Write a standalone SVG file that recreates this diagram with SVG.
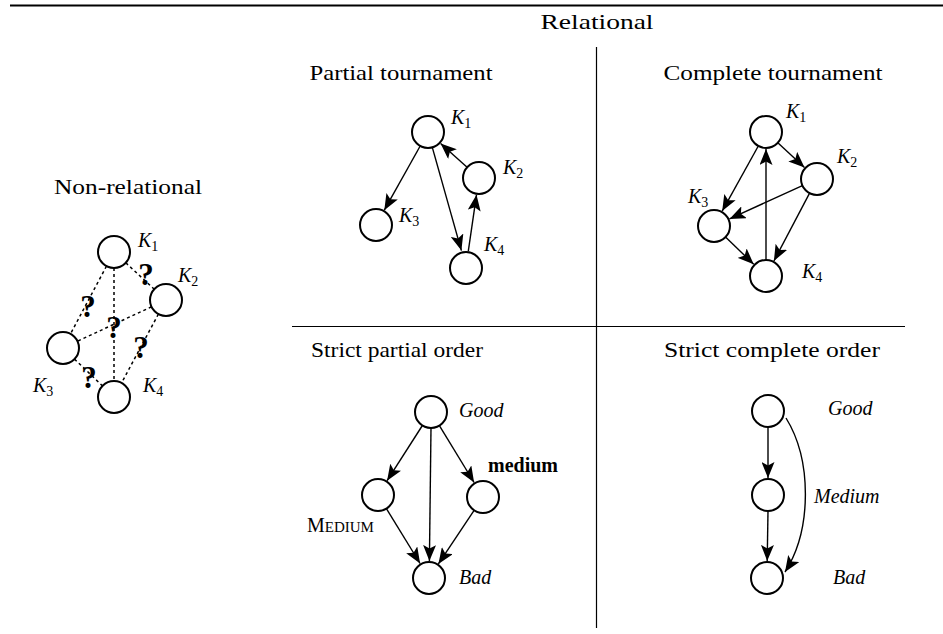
<svg xmlns="http://www.w3.org/2000/svg" width="943" height="634" viewBox="0 0 943 634">
<style>
.t{font-family:"Liberation Serif","DejaVu Serif",serif;font-size:22px;fill:#000}
.k{font-family:"Liberation Serif","DejaVu Serif",serif;font-size:20px;font-style:italic;fill:#000}
.s{font-size:14px;font-style:normal}
.q{font-family:"Liberation Serif","DejaVu Serif",serif;font-size:31px;font-weight:bold;fill:#000;text-anchor:middle}
.n{fill:#fff;stroke:#000;stroke-width:2}
.e{fill:none;stroke:#000;stroke-width:1.4;marker-end:url(#ah)}
.d{fill:none;stroke:#000;stroke-width:1.5;stroke-dasharray:3 3}
.r{stroke:#000;stroke-width:1.2}
</style>
<defs>
<marker id="ah" markerUnits="userSpaceOnUse" markerWidth="17" markerHeight="13" viewBox="0 0 17 13" refX="16" refY="6.5" orient="auto">
<path d="M0,0 L16,6.5 L0,13 L3.5,6.5 z" fill="#000"/>
</marker>
</defs>
<g id="rules">
<line x1="10" y1="5.5" x2="943" y2="5.5" stroke="#000" stroke-width="2.2"/>
<line class="r" x1="596.5" y1="47" x2="596.5" y2="628"/>
<line class="r" x1="292" y1="326.5" x2="905" y2="326.5"/>
</g>
<g id="titles">
<text class="t" x="597" y="29" text-anchor="middle" textLength="113" lengthAdjust="spacingAndGlyphs">Relational</text>
<text class="t" x="401" y="80" text-anchor="middle" textLength="183" lengthAdjust="spacingAndGlyphs">Partial tournament</text>
<text class="t" x="773" y="80" text-anchor="middle" textLength="219" lengthAdjust="spacingAndGlyphs">Complete tournament</text>
<text class="t" x="128" y="194" text-anchor="middle" textLength="148" lengthAdjust="spacingAndGlyphs">Non-relational</text>
<text class="t" x="397" y="357" text-anchor="middle" textLength="172" lengthAdjust="spacingAndGlyphs">Strict partial order</text>
<text class="t" x="772" y="357" text-anchor="middle" textLength="216" lengthAdjust="spacingAndGlyphs">Strict complete order</text>
</g>
<g id="connectors">
<!-- non-relational -->
<line class="d" x1="125.8" y1="262.8" x2="154.2" y2="289.2"/>
<line class="d" x1="106.5" y1="266.1" x2="70.5" y2="333.9"/>
<line class="d" x1="114" y1="268" x2="114" y2="381"/>
<line class="d" x1="151.5" y1="306.8" x2="77.5" y2="341.2"/>
<line class="d" x1="158.4" y1="314.1" x2="121.6" y2="382.9"/>
<line class="d" x1="74.5" y1="359.1" x2="102.5" y2="385.9"/>
<!-- partial tournament -->
<line class="e" x1="420.2" y1="146" x2="384.3" y2="210.2"/>
<line class="e" x1="432.3" y1="147.4" x2="461.4" y2="250.6"/>
<line class="e" x1="467.1" y1="167.3" x2="440.6" y2="143.4"/>
<line class="e" x1="468.3" y1="251.2" x2="476.5" y2="194.8"/>
<!-- complete tournament -->
<line class="e" x1="777.8" y1="142.8" x2="804.5" y2="167.5"/>
<line class="e" x1="758.3" y1="146" x2="722.2" y2="211.1"/>
<line class="e" x1="766" y1="260" x2="766" y2="149"/>
<line class="e" x1="802.4" y1="185.6" x2="729.5" y2="218.9"/>
<line class="e" x1="809.6" y1="193.2" x2="773.9" y2="261"/>
<line class="e" x1="725.5" y1="237.1" x2="753.7" y2="264.2"/>
<!-- strict partial order -->
<line class="e" x1="422.4" y1="425.5" x2="387.1" y2="480.7"/>
<line class="e" x1="439.4" y1="425.6" x2="474.1" y2="482.5"/>
<line class="e" x1="431" y1="428" x2="429.4" y2="561"/>
<line class="e" x1="386.4" y1="508.6" x2="420.1" y2="563.5"/>
<line class="e" x1="474.1" y1="510.3" x2="438.4" y2="563.9"/>
<!-- strict complete order -->
<line class="e" x1="768" y1="427" x2="768" y2="478"/>
<line class="e" x1="768" y1="511" x2="767.2" y2="561"/>
<path class="e" d="M786,418 C812,460 812,530 785,572"/>
</g>
<g id="qmarks">
<text class="q" x="146" y="285">?</text>
<text class="q" x="88" y="317">?</text>
<text class="q" x="114" y="338">?</text>
<text class="q" x="141" y="358">?</text>
<text class="q" x="89" y="388">?</text>
</g>
<g id="nr-K1"><circle class="n" cx="114" cy="252" r="16"/><text class="k" x="138" y="247">K<tspan class="s" dy="4">1</tspan></text></g>
<g id="nr-K2"><circle class="n" cx="166" cy="300" r="16"/><text class="k" x="178" y="282">K<tspan class="s" dy="4">2</tspan></text></g>
<g id="nr-K3"><circle class="n" cx="63" cy="348" r="16"/><text class="k" x="33" y="392">K<tspan class="s" dy="4">3</tspan></text></g>
<g id="nr-K4"><circle class="n" cx="114" cy="397" r="16"/><text class="k" x="143" y="392">K<tspan class="s" dy="4">4</tspan></text></g>
<g id="pt-K1"><circle class="n" cx="428" cy="132" r="16"/><text class="k" x="451" y="124">K<tspan class="s" dy="4">1</tspan></text></g>
<g id="pt-K2"><circle class="n" cx="479" cy="178" r="16"/><text class="k" x="503" y="174">K<tspan class="s" dy="4">2</tspan></text></g>
<g id="pt-K3"><circle class="n" cx="376" cy="225" r="16"/><text class="k" x="399" y="222">K<tspan class="s" dy="4">3</tspan></text></g>
<g id="pt-K4"><circle class="n" cx="466" cy="268" r="16"/><text class="k" x="484" y="251">K<tspan class="s" dy="4">4</tspan></text></g>
<g id="ct-K1"><circle class="n" cx="766" cy="132" r="16"/><text class="k" x="786" y="118">K<tspan class="s" dy="4">1</tspan></text></g>
<g id="ct-K2"><circle class="n" cx="817" cy="179" r="16"/><text class="k" x="837" y="163">K<tspan class="s" dy="4">2</tspan></text></g>
<g id="ct-K3"><circle class="n" cx="714" cy="226" r="16"/><text class="k" x="688" y="203">K<tspan class="s" dy="4">3</tspan></text></g>
<g id="ct-K4"><circle class="n" cx="766" cy="276" r="16"/><text class="k" x="802" y="278">K<tspan class="s" dy="4">4</tspan></text></g>
<g id="spo-good"><circle class="n" cx="431" cy="412" r="16"/><text class="k" x="459" y="417">Good</text></g>
<g id="spo-left"><circle class="n" cx="378" cy="495" r="16"/><text class="t" x="307" y="532"><tspan font-size="20">M</tspan><tspan font-size="15">EDIUM</tspan></text></g>
<g id="spo-right"><circle class="n" cx="483" cy="497" r="16"/><text class="t" x="488" y="472" style="font-size:20px;font-weight:bold">medium</text></g>
<g id="spo-bad"><circle class="n" cx="429" cy="578" r="16"/><text class="k" x="459" y="584">Bad</text></g>
<g id="sco-good"><circle class="n" cx="768" cy="411" r="16"/><text class="k" x="828" y="415">Good</text></g>
<g id="sco-medium"><circle class="n" cx="768" cy="495" r="16"/><text class="k" x="814" y="503">Medium</text></g>
<g id="sco-bad"><circle class="n" cx="767" cy="578" r="16"/><text class="k" x="833" y="584">Bad</text></g>
</svg>
